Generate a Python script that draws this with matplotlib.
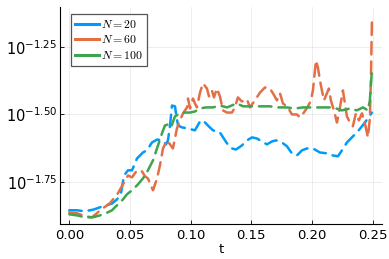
import numpy as np
import matplotlib
matplotlib.use("Agg")
import matplotlib.pyplot as plt
from matplotlib.lines import Line2D

# values (t, log10 of the quantity)
t_20 = [0.000, 0.0063, 0.0129, 0.0203, 0.0253, 0.0302, 0.0352, 0.0393, 0.0426, 0.0451,
        0.0484, 0.0517, 0.0558, 0.0607, 0.0640, 0.0681, 0.0723, 0.0764, 0.0797, 0.0813,
        0.0830, 0.0846, 0.0871, 0.0879, 0.0896, 0.0929, 0.0978, 0.1035, 0.1077, 0.1101,
        0.1142, 0.1184, 0.1241, 0.1299, 0.1340, 0.1373, 0.1422, 0.1464, 0.1505, 0.1546,
        0.1587, 0.1628, 0.1670, 0.1703, 0.1752, 0.1793, 0.1834, 0.1875, 0.1917, 0.1958,
        0.2007, 0.2065, 0.2122, 0.2172, 0.2213, 0.2246, 0.2287, 0.2328, 0.2369, 0.2411,
        0.2460, 0.2493]
exp_20 = [-1.855, -1.855, -1.859, -1.852, -1.844, -1.837, -1.830, -1.815, -1.792, -1.726,
          -1.707, -1.707, -1.663, -1.641, -1.633, -1.604, -1.593, -1.596, -1.611, -1.596,
          -1.541, -1.467, -1.470, -1.496, -1.541, -1.548, -1.552, -1.559, -1.526, -1.522,
          -1.541, -1.559, -1.567, -1.607, -1.626, -1.630, -1.615, -1.596, -1.585, -1.589,
          -1.600, -1.611, -1.600, -1.596, -1.604, -1.618, -1.644, -1.652, -1.633, -1.626,
          -1.626, -1.641, -1.644, -1.652, -1.655, -1.633, -1.604, -1.585, -1.567, -1.544,
          -1.515, -1.493]

t_60 = [0.000, 0.0063, 0.0129, 0.0187, 0.0228, 0.0261, 0.0302, 0.0335, 0.0360, 0.0401,
        0.0451, 0.0484, 0.0517, 0.0558, 0.0599, 0.0624, 0.0648, 0.0690, 0.0723, 0.0747,
        0.0772, 0.0805, 0.0830, 0.0854, 0.0887, 0.0912, 0.0937, 0.0970, 0.0978, 0.0995,
        0.1019, 0.1035, 0.1052, 0.1077, 0.1101, 0.1134, 0.1151, 0.1175, 0.1192, 0.1216,
        0.1241, 0.1266, 0.1299, 0.1340, 0.1365, 0.1389, 0.1422, 0.1464, 0.1488, 0.1529,
        0.1571, 0.1612, 0.1653, 0.1678, 0.1711, 0.1736, 0.1760, 0.1801, 0.1834, 0.1875,
        0.1900, 0.1933, 0.1966, 0.1991, 0.2007, 0.2032, 0.2048, 0.2065, 0.2081, 0.2098,
        0.2122, 0.2139, 0.2155, 0.2180, 0.2205, 0.2230, 0.2254, 0.2287, 0.2312, 0.2336,
        0.2361, 0.2386, 0.2411, 0.2435, 0.2460, 0.2476, 0.2485, 0.2493]
exp_60 = [-1.863, -1.866, -1.877, -1.881, -1.866, -1.852, -1.840, -1.829, -1.815, -1.792,
          -1.752, -1.726, -1.733, -1.707, -1.711, -1.729, -1.737, -1.781, -1.737, -1.689,
          -1.626, -1.596, -1.611, -1.626, -1.552, -1.522, -1.496, -1.474, -1.441, -1.478,
          -1.441, -1.459, -1.474, -1.419, -1.385, -1.404, -1.433, -1.411, -1.437, -1.404,
          -1.433, -1.485, -1.493, -1.493, -1.474, -1.437, -1.452, -1.444, -1.474, -1.448,
          -1.419, -1.400, -1.404, -1.422, -1.448, -1.422, -1.459, -1.474, -1.500, -1.500,
          -1.511, -1.493, -1.470, -1.448, -1.411, -1.300, -1.326, -1.374, -1.411, -1.448,
          -1.422, -1.404, -1.448, -1.485, -1.530, -1.474, -1.411, -1.507, -1.530, -1.544,
          -1.496, -1.522, -1.496, -1.533, -1.585, -1.515, -1.363, -1.152]

t_100 = [0.000, 0.0063, 0.0129, 0.0195, 0.0253, 0.0302, 0.0352, 0.0401, 0.0442, 0.0475,
         0.0525, 0.0566, 0.0607, 0.0648, 0.0690, 0.0731, 0.0764, 0.0788, 0.0813, 0.0838,
         0.0871, 0.0912, 0.0953, 0.0995, 0.1035, 0.1077, 0.1126, 0.1184, 0.1241, 0.1299,
         0.1381, 0.1431, 0.1505, 0.1587, 0.1653, 0.1711, 0.1793, 0.1859, 0.1925, 0.1983,
         0.2065, 0.2122, 0.2172, 0.2246, 0.2312, 0.2369, 0.2419, 0.2460, 0.2476, 0.2493]
exp_100 = [-1.870, -1.874, -1.881, -1.881, -1.874, -1.866, -1.855, -1.833, -1.815, -1.796,
           -1.778, -1.759, -1.737, -1.707, -1.670, -1.615, -1.570, -1.541, -1.537, -1.548,
           -1.507, -1.496, -1.493, -1.493, -1.489, -1.478, -1.474, -1.474, -1.467, -1.474,
           -1.459, -1.470, -1.470, -1.470, -1.470, -1.474, -1.474, -1.478, -1.474, -1.474,
           -1.474, -1.474, -1.474, -1.485, -1.478, -1.485, -1.474, -1.485, -1.448, -1.337]

labels = [r"$N = 20$", r"$N = 60$", r"$N = 100$"]
colors = ["#009AFA", "#E36F47", "#3EA44E"]

x_ticks = [0.00, 0.05, 0.10, 0.15, 0.20, 0.25]
y_tick_exps = [-1.75, -1.50, -1.25]

fig = plt.figure(figsize=(3.89, 2.59), dpi=100)
ax = fig.add_axes([0.154, 0.135, 0.828, 0.838])

series = [(t_20, exp_20), (t_60, exp_60), (t_100, exp_100)]
for (t, e), c in zip(series, colors):
    ax.plot(t, 10 ** np.array(e), color=c, lw=1.8, linestyle=(0, (5, 2.8)),
            solid_capstyle="round", dash_capstyle="round")

ax.set_yscale("log")
ax.set_xlim(-0.0077, 0.2576)
ax.set_ylim(10 ** -1.906, 10 ** -1.102)

ax.set_xticks(x_ticks)
ax.set_xticklabels([f"{v:.2f}" for v in x_ticks])
ax.set_yticks([10 ** e for e in y_tick_exps])
ax.set_yticklabels([rf"$10^{{{e:.2f}}}$" for e in y_tick_exps])
ax.yaxis.set_minor_locator(matplotlib.ticker.NullLocator())

ax.tick_params(direction="in", length=3, width=0.6, labelsize=9.5, color="black")
ax.tick_params(axis="y", labelsize=10.5, pad=2)
ax.grid(True, color="black", alpha=0.08, linewidth=0.6)
for s in ["top", "right"]:
    ax.spines[s].set_visible(False)
for s in ["left", "bottom"]:
    ax.spines[s].set_linewidth(0.8)

ax.set_xlabel("t", fontsize=9.5, labelpad=1)

handles = [Line2D([], [], color=c, lw=2.2) for c in colors]
leg = ax.legend(handles, labels, loc="upper left", bbox_to_anchor=(0.034, 0.968),
                borderaxespad=0, fancybox=False, framealpha=1, edgecolor="#555555",
                handlelength=2.0, handletextpad=0.2, labelspacing=0.2,
                borderpad=0.35, prop={"size": 8.5, "math_fontfamily": "cm"})
leg.get_frame().set_linewidth(0.9)

fig.savefig("out.png", dpi=100)
